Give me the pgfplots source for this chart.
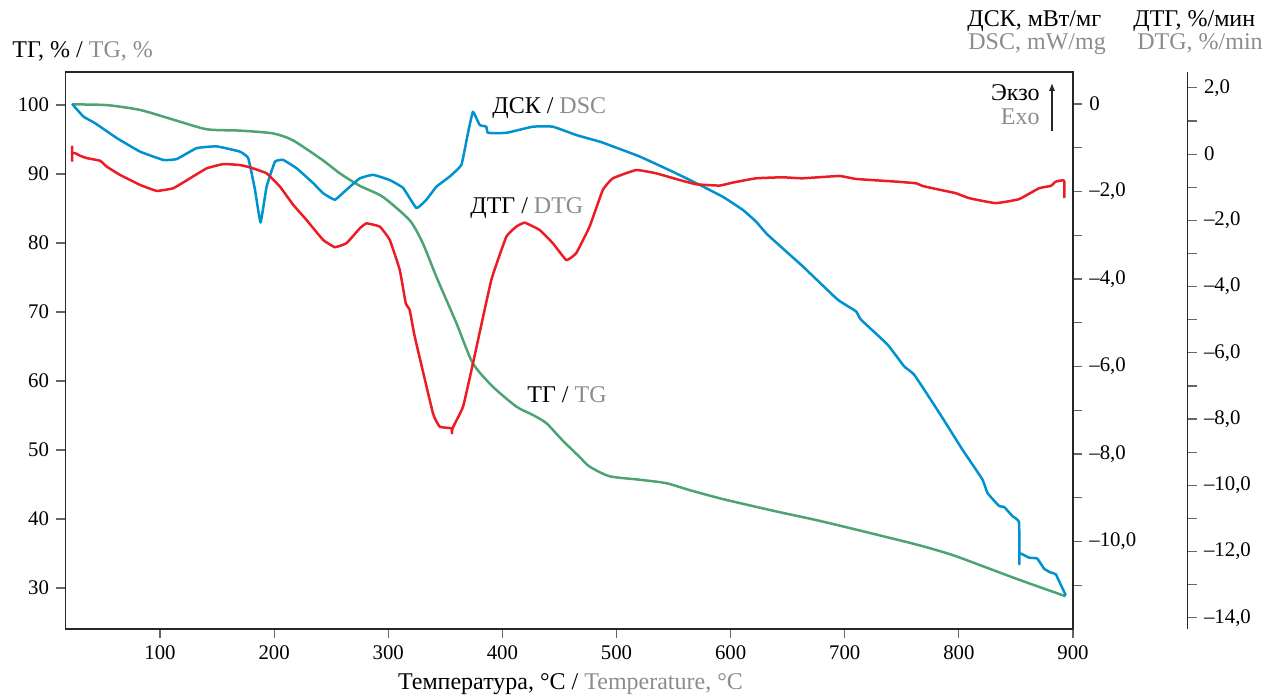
\documentclass[border=0pt]{standalone}
\usepackage{fontspec}
\setmainfont{Liberation Serif}
\usepackage{pgfplots}
\pgfplotsset{compat=1.18}
\usetikzlibrary{arrows.meta}
\definecolor{cblue}{RGB}{0,146,208}
\definecolor{cred}{RGB}{237,28,36}
\definecolor{cgreen}{RGB}{77,163,114}
\definecolor{engl}{gray}{0.55}
\pgfplotsset{
  base/.style={
    scale only axis, width=503.85pt, height=278.5pt,
    xmin=17, xmax=900,
    tick align=outside, major tick length=4.5pt, minor tick length=4.5pt,
    axis line style={-, black!85, line width=0.6pt},
    every tick/.style={black!60, line width=0.6pt},
    /pgf/number format/assume math mode=true,
  },
  curve/.style={no markers, line width=1.25pt, line join=round, smooth, tension=0.2},
}
\tikzset{ttl/.style={inner sep=0pt, font=\fontsize{12}{14}\selectfont}}
\begin{document}
\fontsize{10.4}{12.5}\selectfont
\begin{tikzpicture}
\useasboundingbox (-32.65pt,-33.5pt) rectangle (599.85pt,314.5pt);
% TG axis (left) with box
\begin{axis}[base, ymin=24.06, ymax=104.8,
  xtick={100,200,...,900}, ytick={30,40,...,100},
  tick pos=left]
\addplot[curve, cgreen, tension=0.4] coordinates {
(23,100.1)(53.3,100.0)(82.5,99.3)(111.4,97.9)(140.9,96.5)(170,96.3)(198.9,95.9)
(216.4,94.9)(242.7,92.0)(257.6,90.1)(275,88.3)(295.2,86.7)(318.8,83.3)(330.2,80.0)
(342.2,75.1)(359.7,68.4)(374,62.6)(391.5,59.2)(412.2,56.3)(426.5,55.1)(438.5,53.9)
(452.7,51.4)(467.6,49.0)(476.4,47.6)(493.9,46.2)(520.1,45.7)(543.5,45.2)(563.9,44.2)
(593,42.9)(640,41.1)(677.7,39.75)(721.5,38.0)(765.2,36.2)(794.1,34.8)(823.6,33.0)
(852.7,31.2)(893.6,28.8)};
\end{axis}
% DSC axis (right of box)
\begin{axis}[base, ymin=-12, ymax=0.73,
  axis x line=none, axis y line*=right,
  ytick={-10,-8,-6,-4,-2,0},
  yticklabels={{–10,0},{–8,0},{–6,0},{–4,0},{–2,0},{0}},
  minor ytick={-11,-9,-7,-5,-3,-1}]
\addplot[curve, cblue] coordinates {
(23,0.0)(32.9,-0.29)(43.1,-0.44)(62.1,-0.78)(82.5,-1.09)(102.9,-1.28)(114.6,-1.26)
(132.1,-1.01)(149.6,-0.97)(170,-1.09)(177.3,-1.24)(183.2,-1.96)(188.1,-2.71)
(193.4,-1.89)(200.7,-1.32)(207.9,-1.28)(219.7,-1.47)(234.2,-1.81)(242.9,-2.04)
(253.2,-2.19)(263.4,-1.96)(275.1,-1.70)(286.7,-1.62)(301.3,-1.74)(313,-1.92)
(324.7,-2.38)(333.4,-2.19)(342.2,-1.89)(353.8,-1.66)(364.1,-1.39)(369.8,-0.67)
(374.2,-0.18)(380.1,-0.48)(385.9,-0.52)(387.4,-0.66)(403.5,-0.66)(426.7,-0.52)
(444.2,-0.52)(464.7,-0.71)(485.1,-0.86)(489.5,-0.90)(520.1,-1.20)(549.3,-1.55)
(569.8,-1.81)(593,-2.12)(610.6,-2.42)(622.3,-2.69)(632.4,-2.99)(663.1,-3.71)
(693.7,-4.47)(709.8,-4.74)(714.2,-4.93)(737.5,-5.50)(752.1,-6.00)(760.9,-6.19)
(782.8,-7.06)(803.1,-7.90)(820.6,-8.58)(825,-8.89)(835.2,-9.19)(839.6,-9.21)
(846.9,-9.42)(852.7,-9.56)(853,-10.52)(853.3,-10.27)(861.5,-10.37)(868.7,-10.39)
(874.6,-10.62)(880.4,-10.71)(884.9,-10.75)(893.6,-11.23)};
\end{axis}
% DTG data
\begin{axis}[base, ymin=-14.34, ymax=2.48, hide axis]
\addplot[curve, cred] coordinates {
(22.9,-0.23)(22.9,0.23)(23.1,0.03)(25.6,0.03)(30,-0.05)(35.8,-0.12)(47.5,-0.20)
(53.4,-0.38)(65,-0.63)(70.9,-0.73)(82.5,-0.93)(97.1,-1.11)(111.6,-1.03)(126.3,-0.73)
(140.9,-0.43)(155.4,-0.30)(170,-0.33)(178.8,-0.40)(193.4,-0.58)(205,-0.98)
(216.7,-1.53)(228.4,-1.99)(242.9,-2.59)(253.2,-2.81)(263.4,-2.69)(275.1,-2.24)
(280.9,-2.09)(292.6,-2.19)(301.3,-2.59)(310.1,-3.50)(315.3,-4.50)(318.8,-4.71)
(323.2,-5.51)(339.2,-7.83)(345.1,-8.23)(355.3,-8.28)(355.8,-8.43)(356.4,-8.27)
(365.5,-7.63)(374.2,-6.32)(390.3,-3.80)(403.5,-2.49)(412.2,-2.19)(419.5,-2.07)
(432.6,-2.29)(444.2,-2.69)(456,-3.20)(464.7,-2.99)(476.4,-2.19)(488,-1.08)
(496.8,-0.73)(517.2,-0.48)(534.7,-0.58)(555.1,-0.78)(569.8,-0.91)(590.2,-0.95)
(601.8,-0.86)(622.3,-0.73)(645.6,-0.70)(663.1,-0.73)(695.2,-0.66)(709.8,-0.75)
(744.8,-0.83)(762.3,-0.88)(768.1,-0.96)(776.9,-1.03)(797.3,-1.18)(809,-1.33)
(832.3,-1.48)(852.7,-1.36)(870.2,-1.03)(880.5,-0.96)(884.9,-0.83)(892.2,-0.80)
(892.3,-1.33)};
\end{axis}
% DTG axis (offset)
\begin{axis}[base, at={(57.35pt,0pt)}, ymin=-14.34, ymax=2.48,
  axis x line=none, axis y line*=right,
  ytick={-14,-12,-10,-8,-6,-4,-2,0,2},
  yticklabels={{–14,0},{–12,0},{–10,0},{–8,0},{–6,0},{–4,0},{–2,0},{0},{2,0}},
  minor ytick={-13,-11,-9,-7,-5,-3,-1,1}]
\end{axis}
% texts
\node[ttl, anchor=base west] at (-26.65pt,285.5pt) {ТГ, \% / \textcolor{engl}{TG, \%}};
\node[ttl, anchor=base west] at (450.85pt,301pt) {ДСК, мВт/мг};
\node[ttl, anchor=base west, text=engl] at (451.35pt,289.5pt) {DSC, mW/mg};
\node[ttl, anchor=base west] at (533.85pt,301pt) {ДТГ, \%/мин};
\node[ttl, anchor=base west, text=engl] at (535.85pt,289.5pt) {DTG, \%/min};
\node[ttl, anchor=base east] at (487.35pt,264pt) {Экзо};
\node[ttl, anchor=base east, text=engl] at (487.35pt,252pt) {Exo};
\draw[-{Latex[length=4pt,width=3.2pt]}, line width=0.7pt, black!85] (493.35pt,249pt) -- (493.35pt,273pt);
\node[ttl, anchor=base west] at (213.35pt,257.5pt) {ДСК / \textcolor{engl}{DSC}};
\node[ttl, anchor=base west] at (202.35pt,207.5pt) {ДТГ / \textcolor{engl}{DTG}};
\node[ttl, anchor=base west] at (230.85pt,113pt) {ТГ / \textcolor{engl}{TG}};
\node[ttl, anchor=base] at (252.6pt,-30.5pt) {Температура, °C / \textcolor{engl}{Temperature, °C}};
\end{tikzpicture}
\end{document}
